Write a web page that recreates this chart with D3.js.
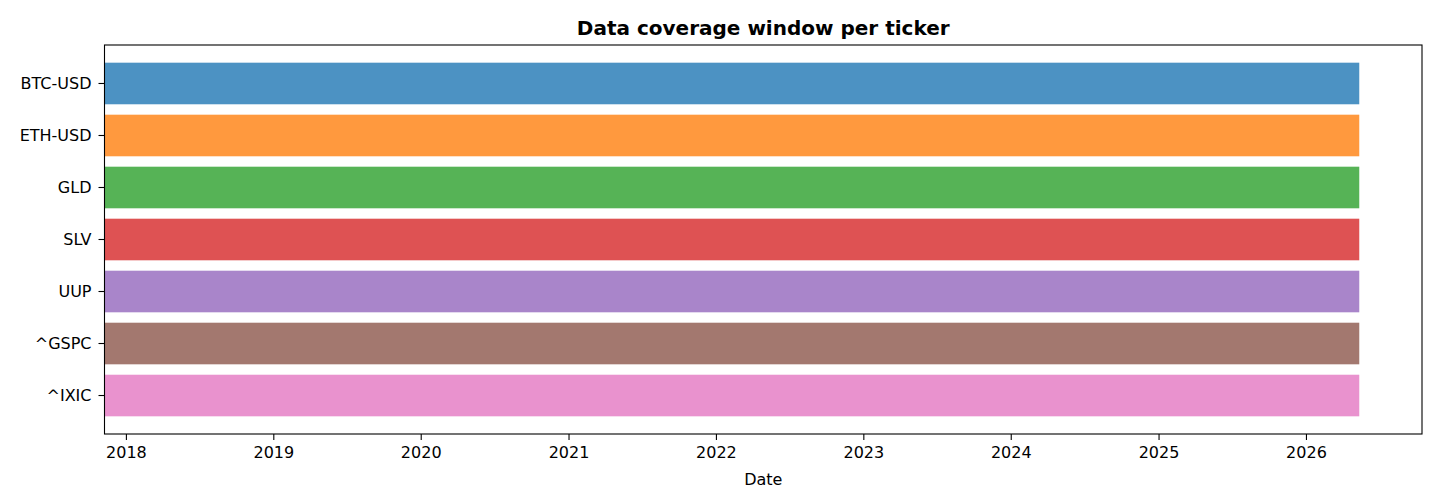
<!DOCTYPE html>
<html>
<head>
<meta charset="utf-8">
<script src="https://cdn.jsdelivr.net/npm/d3@7"></script>
<style>
  html, body { margin: 0; padding: 0; background: #fff; }
  svg { display: block; font-family: "DejaVu Sans", sans-serif; }
</style>
</head>
<body>
<svg id="chart" width="1440" height="504"></svg>
<script>
const tickers = ["BTC-USD", "ETH-USD", "GLD", "SLV", "UUP", "^GSPC", "^IXIC"];
const startDates = ["2017-11-09", "2017-11-09", "2017-11-09", "2017-11-09", "2017-11-09", "2017-11-09", "2017-11-09"];
const endDates = ["2026-05-13", "2026-05-13", "2026-05-13", "2026-05-13", "2026-05-13", "2026-05-13", "2026-05-13"];
const colors = ["#1f77b4", "#ff7f0e", "#2ca02c", "#d62728", "#9467bd", "#8c564b", "#e377c2"];
const yearTicks = ["2018", "2019", "2020", "2021", "2022", "2023", "2024", "2025", "2026"];

const parse = d3.timeParse("%Y-%m-%d");
const data = tickers.map((t, i) => ({ t, s: parse(startDates[i]), e: parse(endDates[i]), c: colors[i] }));

const L = 104.5, R = 1422, T = 45, B = 434;
const svg = d3.select("#chart");

const minS = d3.min(data, d => d.s), maxE = d3.max(data, d => d.e);
const span = maxE - minS;
const x = d3.scaleTime().domain([minS, new Date(+maxE + span * 0.05)]).range([L, R]);
const y = d3.scaleBand().domain(tickers).range([T, B]).paddingInner(0.2).paddingOuter(0.34);

svg.append("g").selectAll("rect").data(data).join("rect")
  .attr("x", d => x(d.s))
  .attr("width", d => x(d.e) - x(d.s))
  .attr("y", d => y(d.t))
  .attr("height", y.bandwidth())
  .attr("fill", d => d.c)
  .attr("fill-opacity", 0.8);

const tickDates = yearTicks.map(v => parse(v + "-01-01"));
const xAxis = d3.axisBottom(x).tickValues(tickDates).tickFormat(d3.timeFormat("%Y")).tickSizeInner(6).tickSizeOuter(0).tickPadding(7);
const gx = svg.append("g").attr("transform", `translate(0,${B})`).call(xAxis);
gx.select(".domain").remove();
gx.selectAll("line").attr("stroke", "#000").attr("stroke-width", 1.1);
gx.selectAll("text").attr("font-size", 16).attr("fill", "#000").attr("font-family", "DejaVu Sans");

const yAxis = d3.axisLeft(y).tickSizeInner(6).tickSizeOuter(0).tickPadding(7);
const gy = svg.append("g").attr("transform", `translate(${L},0)`).call(yAxis);
gy.select(".domain").remove();
gy.selectAll("line").attr("stroke", "#000").attr("stroke-width", 1.1);
gy.selectAll("text").attr("font-size", 16).attr("fill", "#000").attr("font-family", "DejaVu Sans");

svg.append("rect").attr("x", L).attr("y", T).attr("width", R - L).attr("height", B - T)
  .attr("fill", "none").attr("stroke", "#000").attr("stroke-width", 1.1);

svg.append("text").attr("x", (L + R) / 2).attr("y", 34.5).attr("text-anchor", "middle")
  .attr("font-size", 20).attr("font-weight", "bold").attr("fill", "#000").text("Data coverage window per ticker");

svg.append("text").attr("x", (L + R) / 2).attr("y", 485).attr("text-anchor", "middle")
  .attr("font-size", 16).attr("fill", "#000").text("Date");
</script>
</body>
</html>
